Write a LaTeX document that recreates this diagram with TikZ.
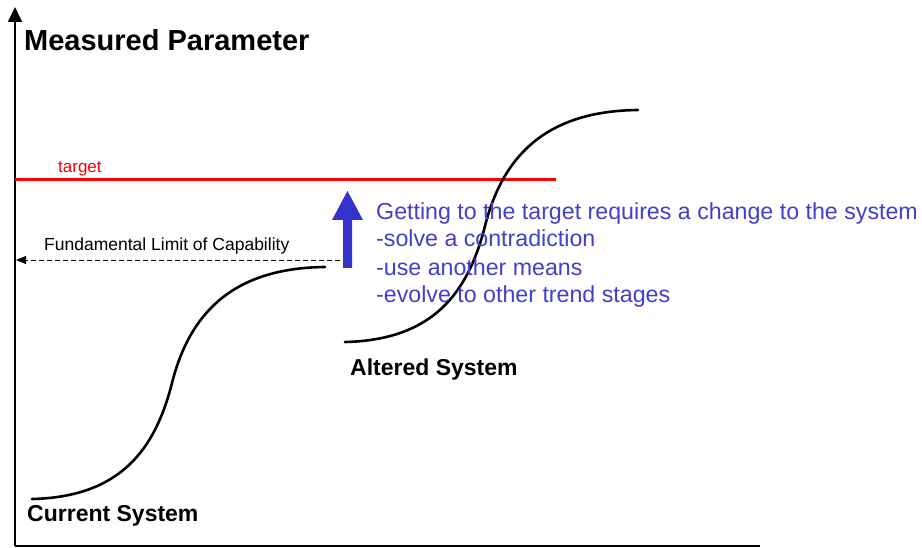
\documentclass[tikz,border=0pt]{standalone}
\usepackage{fontspec}
\setmainfont{Liberation Sans}
\usetikzlibrary{arrows.meta}
\definecolor{arrowblue}{RGB}{51,51,204}
\definecolor{noteblue}{RGB}{64,64,204}
\tikzset{
  axis/.style={line width=2pt},
  scurve/.style={line width=2.6pt, line cap=round},
  lbl/.style={inner sep=0pt, anchor=base west},
}
\begin{document}
\begin{tikzpicture}[x=1pt,y=-1pt]
\useasboundingbox (0,0) rectangle (922,548);

% axes
\coordinate (origin) at (15,546);
\coordinate (ytop) at (15,7);
\coordinate (xend) at (760,546);
\draw[axis, -{Triangle[length=15pt,width=14pt]}] (origin) -- (ytop);
\draw[axis] (origin) -- (xend);
\node[lbl, font=\bfseries\fontsize{29}{34}\selectfont] (title) at (24,51) {Measured Parameter};

% target level
\coordinate (tgtL) at (15,180);
\coordinate (tgtR) at (556,180);
\draw[red, line width=3pt] (tgtL) -- (tgtR);
\node[lbl, red, font=\fontsize{17}{20}\selectfont] (tgt) at (58,173) {target};

% fundamental limit
\coordinate (limR) at (340,260);
\coordinate (limL) at (16,260);
\draw[dashed, dash pattern=on 5pt off 3pt, line width=0.9pt, -{Triangle[length=10pt,width=8pt]}] (limR) -- (limL);
\node[lbl, font=\fontsize{17.5}{20}\selectfont] (lim) at (44,251) {Fundamental Limit of Capability};

% current system S-curve
\begin{scope}
\draw[scurve] (32,499) .. controls (120,497) and (155,450) .. (172,383)
  .. controls (189,316) and (230,268) .. (325,267);
\end{scope}
\node[lbl, font=\bfseries\fontsize{23}{27}\selectfont] (cur) at (27,521) {Current System};

% altered system S-curve (same shape, shifted)
\begin{scope}[shift={(313,-157)}]
\draw[scurve] (32,499) .. controls (120,497) and (155,450) .. (172,383)
  .. controls (189,316) and (230,268) .. (325,267);
\end{scope}
\node[lbl, font=\bfseries\fontsize{23}{27}\selectfont] (alt) at (350,375) {Altered System};

% change arrow
\fill[arrowblue] (343,268) -- (352,268) -- (352,220) -- (363,220) -- (347.5,191)
  -- (332,220) -- (343,220) -- cycle;

% explanation (anchored at the baseline of its last line)
\node[lbl, noteblue, font=\fontsize{23.2}{28}\selectfont, align=left] (note) at (376,303)
  {Getting to the target requires a change to the system\\
   -solve a contradiction\\
   -use another means\\
   -evolve to other trend stages};
\end{tikzpicture}
\end{document}
